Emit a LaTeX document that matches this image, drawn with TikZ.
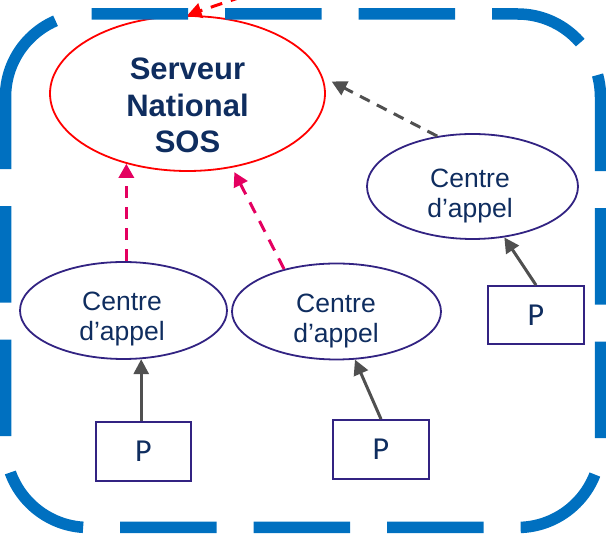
\documentclass[tikz,border=0pt]{standalone}
\usepackage{fontspec}
\setmainfont{Liberation Sans}
\newfontfamily\pfont{Carlito}
\usetikzlibrary{arrows.meta,shapes.geometric,calc}
\definecolor{bordblue}{RGB}{0,112,192}
\definecolor{ellpurple}{RGB}{50,35,130}
\definecolor{navytext}{RGB}{15,45,95}
\definecolor{arrowgray}{RGB}{80,80,80}
\definecolor{linkpink}{RGB}{228,0,96}
\definecolor{srvred}{RGB}{255,0,0}
\begin{document}
\begin{tikzpicture}[x=1pt,y=1pt,
  centreell/.style={ellipse, draw=ellpurple, line width=1.8pt, inner sep=0pt},
  srvell/.style={ellipse, draw=srvred, line width=1.8pt, inner sep=0pt},
  ctext/.style={align=center, inner sep=0pt, text=navytext, font=\fontsize{26.5}{30.5}\selectfont},
  stext/.style={align=center, inner sep=0pt, text=navytext, font=\bfseries\fontsize{31}{36.5}\selectfont},
  pbox/.style={draw=ellpurple, line width=1.8pt, minimum width=96pt, minimum height=59pt, inner sep=0pt, text=navytext, font=\pfont\fontsize{32}{38}\selectfont},
  grayarrow/.style={draw=arrowgray, line width=3pt, -{Triangle[length=15pt,width=15pt]}},
  graydash/.style={draw=arrowgray, line width=3pt, dash pattern=on 11pt off 8pt, -{Triangle[length=15pt,width=15pt]}},
  pinkarrow/.style={draw=linkpink, line width=3pt, dash pattern=on 12pt off 9pt, -{Triangle[length=14pt,width=15pt]}},
  redarrow/.style={draw=srvred, line width=3pt, dash pattern=on 12pt off 9pt, -{Triangle[length=14pt,width=15pt]}},
  bordline/.style={draw=bordblue, line width=11.5pt, dash pattern=on 96.5pt off 37pt}
]
\useasboundingbox (0,0) rectangle (606,535);
\clip (0,0) rectangle (606,535);

% server
\node[srvell, minimum width=275pt, minimum height=155pt] (sv) at (187.5,441.5) {};
\node[stext] (svt) at (187.5,429.6) {Serveur\\National\\SOS};

% call centres
\node[centreell, minimum width=211pt, minimum height=105pt] (cr) at (472.5,348.5) {};
\node[ctext] (crt) at (470,339) {Centre\\d’appel};
\node[centreell, minimum width=209pt, minimum height=96pt] (cm) at (336.5,223.5) {};
\node[ctext] (cmt) at (336,214) {Centre\\d’appel};
\node[centreell, minimum width=207pt, minimum height=97pt] (cl) at (123.5,224.5) {};
\node[ctext] (clt) at (122,216) {Centre\\d’appel};

% P boxes
\node[pbox, minimum width=95pt] (pl) at (143.5,83.5) {P};
\node[pbox] (pm) at (381,85.5) {P};
\node[pbox, minimum height=58pt] (pr) at (536,220) {P};

% P -> centre arrows
\draw[grayarrow] (pl.north -| cl.-70) -- (cl.-70);
\draw[grayarrow] (pm.north) -- (cm.-69);
\draw[grayarrow] (pr.north) -- (cr.-58);

% centre -> server links
\draw[pinkarrow] (cl.north -| sv.-131) -- (sv.-131);
\draw[pinkarrow, shorten >=5pt] (cm.141) -- (sv.-59);
\draw[graydash, shorten >=10pt] (cr.125) -- (sv.7);

% link coming from outside at the top
\coordinate (topsrc) at (262,545);
\draw[redarrow] (topsrc) -- (sv.north);

% dashed rounded border
\path[bordline]
  (5.5,438) arc[start angle=180,end angle=90,radius=83]
  -- (517.5,521) arc[start angle=90,end angle=0,radius=83]
  -- (600.5,90.5) arc[start angle=0,end angle=-90,radius=83]
  -- (88.5,7.5) arc[start angle=270,end angle=180,radius=83]
  -- cycle;
\end{tikzpicture}
\end{document}
